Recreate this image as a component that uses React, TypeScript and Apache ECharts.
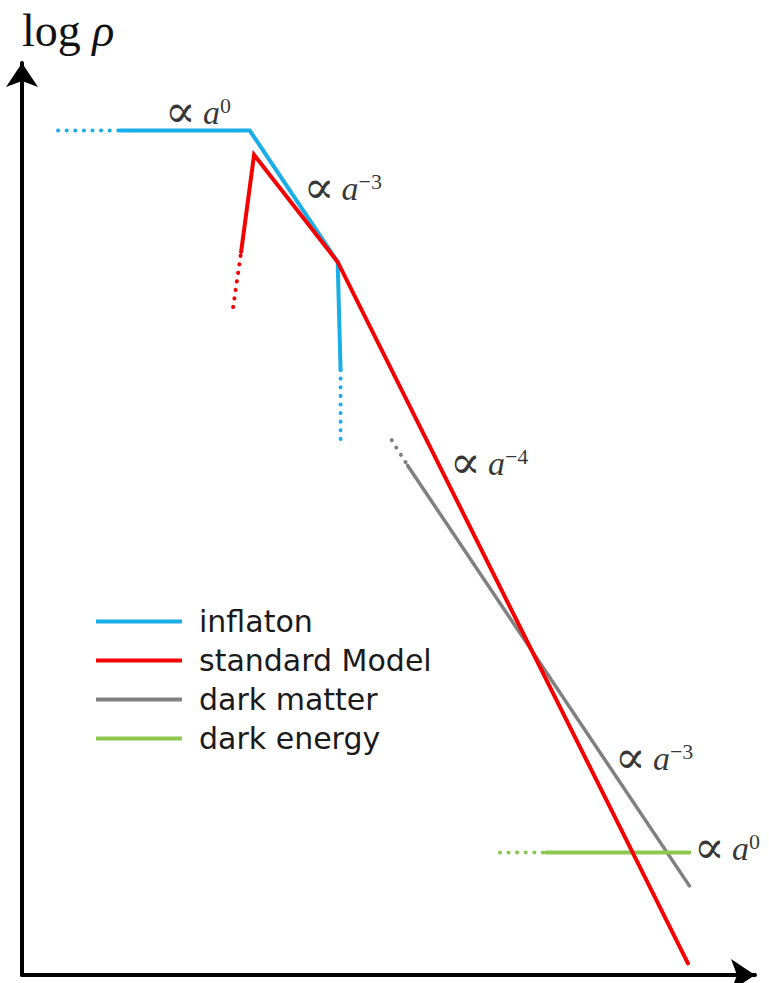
import React, { useEffect, useRef } from "react";
import * as echarts from "echarts";

// x: log a (arbitrary units), y: log rho (arbitrary units)
const inflatonSolid: [number, number][] = [[1.36, 9.38], [3.16, 9.38], [4.38, 7.92], [4.42, 6.72]];
const inflatonDotA: [number, number][] = [[0.5, 9.38], [1.36, 9.38]];
const inflatonDotB: [number, number][] = [[4.42, 6.72], [4.42, 5.94]];

const smSolid: [number, number][] = [[3.04, 8.03], [3.22, 9.11], [4.38, 7.92], [9.24, 0.13]];
const smDot: [number, number][] = [[2.93, 7.42], [3.04, 8.03]];

const dmSolid: [number, number][] = [[5.35, 5.66], [9.26, 0.99]];
const dmDot: [number, number][] = [[5.13, 5.94], [5.35, 5.66]];

const deSolid: [number, number][] = [[7.27, 1.36], [9.26, 1.36]];
const deDot: [number, number][] = [[6.63, 1.36], [7.27, 1.36]];

const seriesNames = ["inflaton", "standard Model", "dark matter", "dark energy"];
const colors = ["#1aaee8", "#f50000", "#808080", "#8cc850"];

const annotations: { pos: [number, number]; exp: string }[] = [
  { pos: [2.44, 9.58], exp: "0" },
  { pos: [4.45, 8.74], exp: "−3" },
  { pos: [6.48, 5.68], exp: "−4" },
  { pos: [8.77, 2.41], exp: "−3" },
  { pos: [9.78, 1.4], exp: "0" },
];

export default function App() {
  const ref = useRef<HTMLDivElement>(null);
  useEffect(() => {
    if (!ref.current) return;
    const chart = echarts.init(ref.current, undefined, { renderer: "svg" });
    const solid = (name: string, data: [number, number][], color: string, width = 4) => ({
      name,
      type: "line",
      data,
      symbol: "none",
      lineStyle: { color, width, cap: "round", join: "miter" },
      itemStyle: { color },
      silent: true,
    });
    const dotted = (name: string, data: [number, number][], color: string) => ({
      name,
      type: "line",
      data,
      symbol: "none",
      lineStyle: { color, width: 4, type: [0.1, 8.5], cap: "round" },
      itemStyle: { color },
      silent: true,
    });
    const axisCommon = {
      type: "value",
      min: 0,
      axisLine: {
        show: true,
        onZero: false,
        lineStyle: { color: "#000", width: 4 },
        symbol: ["none", "arrow"],
        symbolSize: [24, 24],
      },
      axisTick: { show: false },
      axisLabel: { show: false },
      splitLine: { show: false },
    };
    chart.setOption({
      animation: false,
      title: {
        text: "{n|log }{r|ρ}",
        left: 17,
        top: 0,
        textStyle: {
          rich: {
            n: { fontFamily: "Liberation Serif", fontWeight: "normal", fontSize: 46, color: "#111", lineHeight: 50 },
            r: { fontFamily: "Liberation Serif", fontWeight: "normal", fontStyle: "italic", fontSize: 46, color: "#111", lineHeight: 50 },
          },
        },
      },
      grid: { left: 22, right: 14, top: 63, bottom: 8 },
      xAxis: { ...axisCommon, max: 10.17 },
      yAxis: { ...axisCommon, max: 10.13 },
      legend: {
        data: seriesNames,
        orient: "vertical",
        left: 96,
        top: 604,
        padding: 0,
        icon: "rect",
        itemWidth: 86,
        itemHeight: 4,
        itemGap: 4,
        selectedMode: false,
        textStyle: {
          fontFamily: "DejaVu Sans",
          fontSize: 30,
          color: "#1a1a1a",
          lineHeight: 35,
          padding: [0, 0, 0, 12],
        },
      },
      series: [
        dotted("inflaton-dot1", inflatonDotA, colors[0]),
        dotted("inflaton-dot2", inflatonDotB, colors[0]),
        dotted("sm-dot", smDot, colors[1]),
        dotted("dm-dot", dmDot, colors[2]),
        dotted("de-dot", deDot, colors[3]),
        solid(seriesNames[2], dmSolid, colors[2], 3.5),
        solid(seriesNames[3], deSolid, colors[3]),
        solid(seriesNames[0], inflatonSolid, colors[0]),
        solid(seriesNames[1], smSolid, colors[1]),
        {
          name: "labels",
          type: "scatter",
          symbolSize: 0,
          clip: false,
          silent: true,
          data: annotations.map((a) => ({ value: a.pos, exp: a.exp })),
          label: {
            show: true,
            position: "inside",
            formatter: (p: any) => `{m|∝}{sp| }{i|a}{s|${p.data.exp}}`,
            rich: {
              m: { fontFamily: "DejaVu Serif", fontSize: 46, color: "#000", lineHeight: 36, padding: [0, 0, 3, 0] },
              sp: { fontFamily: "Liberation Serif", fontSize: 28, color: "#000", lineHeight: 36 },
              i: { fontFamily: "Liberation Serif", fontStyle: "italic", fontSize: 34, color: "#000", lineHeight: 36 },
              s: { fontFamily: "Liberation Serif", fontSize: 22, color: "#000", lineHeight: 22, verticalAlign: "top" },
            },
          },
        },
      ],
    });
    return () => chart.dispose();
  }, []);
  return <div ref={ref} style={{ width: 769, height: 983, position: "absolute", left: 0, top: 0 }} />;
}
